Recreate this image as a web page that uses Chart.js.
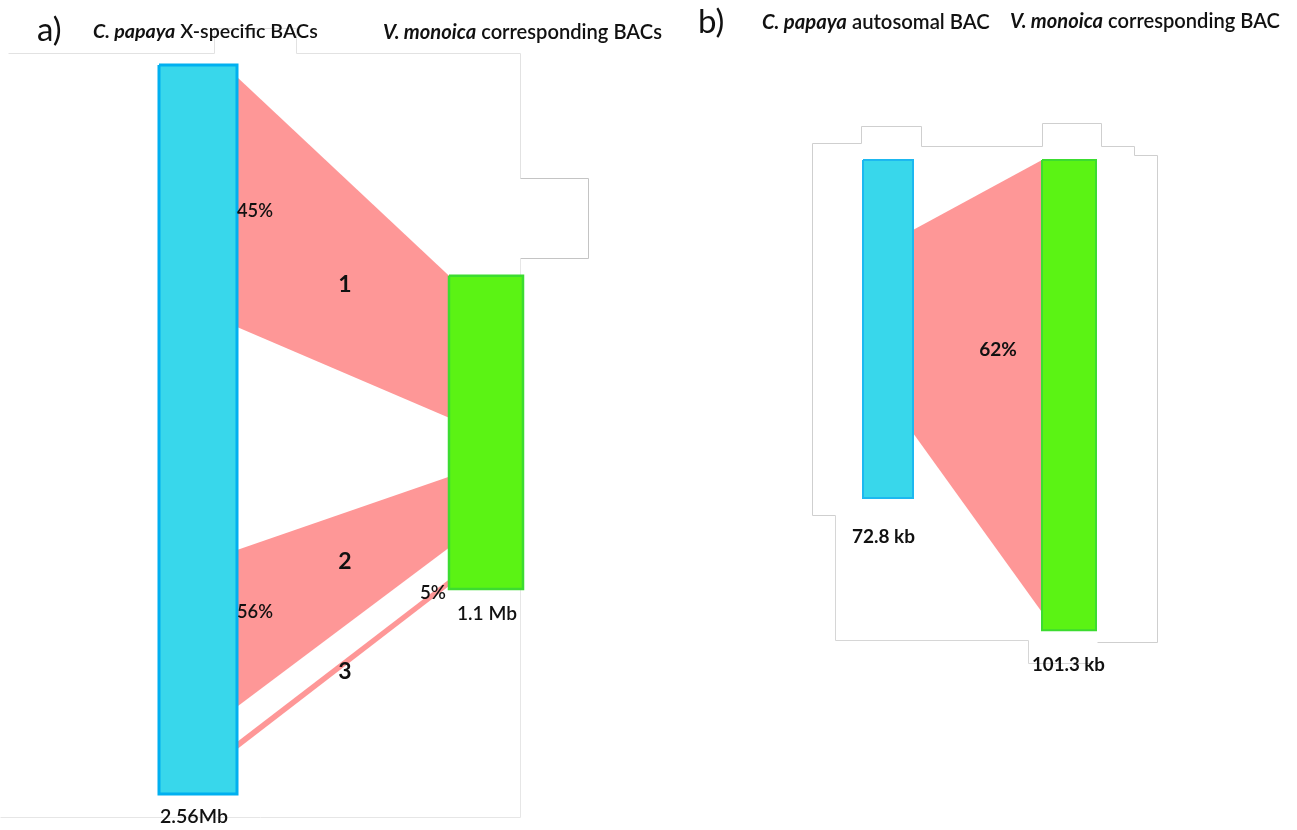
<!DOCTYPE html>
<html><head><meta charset="utf-8">
<script src="https://cdn.jsdelivr.net/npm/chart.js@4"></script>
<style>html,body{margin:0;padding:0;background:#fff;}#wrap{position:relative;width:1297px;height:830px;}canvas{display:block}</style>
</head><body><div id="wrap"><canvas id="c" width="1297" height="830"></canvas></div>
<script>
// ---------- DATA ----------
// Panel a: C. papaya X-specific BACs vs V. monoica corresponding BACs (Mb)
const trackLengthsA = [2.56, 1.1];               // Mb
const vmAlignA = 0.74;                           // Mb on C. papaya scale where V. monoica track starts
const ribbonsCpA = [[0.042, 0.920], [1.703, 2.254], [2.377, 2.403]];   // Mb on C. papaya
const ribbonsVmA = [[0.000, 0.499], [0.706, 0.955], [1.067, 1.090]];   // Mb on V. monoica
const ribbonNamesA = ['1', '2', '3'];
const percentLabelsA = ['45%', '56%', '5%'];
const sizeLabelsA = ['2.56Mb', '1.1 Mb'];
// Panel b: C. papaya autosomal BAC vs V. monoica corresponding BAC (kb)
const trackLengthsB = [72.8, 101.3];             // kb
const ribbonCpB = [15.1, 58.8];                  // kb
const ribbonVmB = [0.0, 97.4];                   // kb
const percentLabelB = '62%';
const sizeLabelsB = ['72.8 kb', '101.3 kb'];

// ---------- LAYOUT ----------
const W = 1297, H = 830;
const topA = 65, bottomA = 794;
const pxPerA = (bottomA - topA) / trackLengthsA[0];
const topB = 160, bottomB = 498;
const pxPerB = (bottomB - topB) / trackLengthsB[0];
const xA = {cpL: 159, cpR: 237, vmL: 449, vmR: 523};
const xB = {cpL: 863, cpR: 913, vmL: 1042, vmR: 1096};
const BLUE = '#38d7eb', BLUE_B = '#00b0f0', GREEN = '#5bf314', GREEN_B = '#3cdc30', PINK = '#fe9797';

function edge(axis, pts, extra) {
  return Object.assign({type: 'line', yAxisID: axis, data: pts.map(p => ({x: p[0], y: p[1]})),
    pointRadius: 0, borderWidth: 0, borderColor: 'rgba(0,0,0,0)', fill: false, tension: 0}, extra || {});
}
function band(axis, x1, y1a, y1b, x2, y2a, y2b, color, order) {
  return [
    edge(axis, [[x1, y1a], [x2, y2a]], {fill: '+1', backgroundColor: color, order}),
    edge(axis, [[x1, y1b], [x2, y2b]], {order})
  ];
}
function rect(axis, l, r, t, b, fillC, borderC, bw) {
  return band(axis, l, t, b, r, t, b, fillC, 0).concat([
    edge(axis, [[l, t], [r, t], [r, b], [l, b], [l, t]], {borderWidth: bw, borderColor: borderC, order: -1, borderJoinStyle: 'miter'})
  ]);
}

const datasets = [];
ribbonsCpA.forEach((cp, i) => {
  const vm = ribbonsVmA[i];
  datasets.push(...band('yA', xA.cpR, cp[0], cp[1], xA.vmL, vmAlignA + vm[0], vmAlignA + vm[1], PINK, 1));
});
datasets.push(...band('yB', xB.cpR, ribbonCpB[0], ribbonCpB[1], xB.vmL, ribbonVmB[0], ribbonVmB[1], PINK, 1));
datasets.push(...rect('yA', xA.cpL, xA.cpR, 0, trackLengthsA[0], BLUE, BLUE_B, 3));
datasets.push(...rect('yA', xA.vmL, xA.vmR, vmAlignA, vmAlignA + trackLengthsA[1], GREEN, GREEN_B, 2.5));
datasets.push(...rect('yB', xB.cpL, xB.cpR, 0, trackLengthsB[0], BLUE, '#1db8f0', 2));
datasets.push(...rect('yB', xB.vmL, xB.vmR, 0, trackLengthsB[1], GREEN, GREEN_B, 2));

const FONT = 'Lato, "Open Sans", sans-serif';
function runs(ctx, x, y, parts, targetW) {
  let size = 18;
  const meas = s => parts.reduce((w, p) => { ctx.font = `${p[2]} ${p[1]} ${s}px ${FONT}`; return w + ctx.measureText(p[0]).width; }, 0);
  if (targetW) size = 18 * targetW / meas(18);
  let cx = x;
  ctx.textBaseline = 'middle'; ctx.textAlign = 'left';
  parts.forEach(p => { ctx.font = `${p[2]} ${p[1]} ${size}px ${FONT}`; ctx.fillText(p[0], cx, y); cx += ctx.measureText(p[0]).width; });
}
function fitText(ctx, t, x, y, weight, targetW) {
  ctx.font = `${weight} 20px ${FONT}`;
  const s = 20 * targetW / ctx.measureText(t).width;
  ctx.font = `${weight} ${s}px ${FONT}`;
  ctx.fillText(t, x, y);
}

const deco = {
  id: 'deco',
  beforeDraw(chart) {
    const ctx = chart.ctx;
    ctx.save();
    ctx.fillStyle = '#fff'; ctx.fillRect(0, 0, W, H);
    ctx.lineWidth = 1;
    const poly = (pts, col) => { ctx.strokeStyle = col; ctx.beginPath(); pts.forEach((p, i) => i ? ctx.lineTo(p[0] + .5, p[1] + .5) : ctx.moveTo(p[0] + .5, p[1] + .5)); ctx.stroke(); };
    poly([[8, 53], [214, 53], [214, 28], [296, 28], [296, 53], [520, 53], [520, 178]], '#e2e2e2');
    poly([[520, 178], [588, 178], [588, 258], [520, 258]], '#c4c4c4');
    poly([[520, 258], [520, 817], [0, 817]], '#e6e6e6');
    poly([[835, 515], [812, 515], [812, 143], [861, 143], [861, 126], [921, 126], [921, 146], [1042, 146], [1042, 123], [1101, 123], [1101, 146], [1134, 146], [1134, 155], [1157, 155], [1157, 642], [1097, 642]], '#cfcfcf');
    poly([[835, 515], [835, 640], [1028, 640], [1028, 663], [1092, 663]], '#d6d6d6');
    ctx.restore();
  },
  afterDraw(chart) {
    const ctx = chart.ctx;
    ctx.save();
    ctx.fillStyle = '#111';
    ctx.textBaseline = 'middle'; ctx.textAlign = 'left';
    ctx.font = `400 33px ${FONT}`; ctx.fillText('a)', 37, 30);
    ctx.font = `400 33px ${FONT}`; ctx.fillText('b)', 698, 22);
    runs(ctx, 93, 32, [['C. papaya', 'bold', 'italic'], [' X-specific BACs', '600', 'normal']], 225);
    runs(ctx, 383, 32, [['V. monoica', 'bold', 'italic'], [' corresponding BACs', '600', 'normal']], 279);
    runs(ctx, 762, 22, [['C. papaya', 'bold', 'italic'], [' autosomal BAC', '600', 'normal']], 228);
    runs(ctx, 1010, 22, [['V. monoica', 'bold', 'italic'], [' corresponding BAC', '600', 'normal']], 270);
    ctx.textAlign = 'center';
    ctx.font = `bold 23px ${FONT}`;
    const namePos = [[345, 285], [345, 562], [345, 672]];
    ribbonNamesA.forEach((t, i) => ctx.fillText(t, namePos[i][0], namePos[i][1]));
    ctx.textAlign = 'left';
    const pctPos = [[237, 211, 36], [237, 612, 36], [420, 593, 26]];
    percentLabelsA.forEach((t, i) => fitText(ctx, t, pctPos[i][0], pctPos[i][1], '600', pctPos[i][2]));
    fitText(ctx, sizeLabelsA[0], 160, 817, '600', 68);
    fitText(ctx, sizeLabelsA[1], 457, 614, '600', 60);
    ctx.textAlign = 'center';
    ctx.font = `bold 19px ${FONT}`;
    ctx.fillText(percentLabelB, 998, 350);
    ctx.textAlign = 'left';
    fitText(ctx, sizeLabelsB[0], 852, 537, 'bold', 63);
    fitText(ctx, sizeLabelsB[1], 1032, 665, 'bold', 73);
    ctx.restore();
  }
};

new Chart(document.getElementById('c'), {
  type: 'line',
  data: {datasets},
  options: {
    responsive: false, animation: false, devicePixelRatio: 1,
    layout: {padding: 0},
    plugins: {legend: {display: false}, tooltip: {enabled: false}},
    events: [],
    scales: {
      x: {type: 'linear', min: 0, max: W, display: false},
      yA: {type: 'linear', reverse: true, min: -topA / pxPerA, max: (H - topA) / pxPerA, display: false},
      yB: {type: 'linear', reverse: true, min: -topB / pxPerB, max: (H - topB) / pxPerB, display: false}
    }
  },
  plugins: [deco]
});
</script></body></html>
